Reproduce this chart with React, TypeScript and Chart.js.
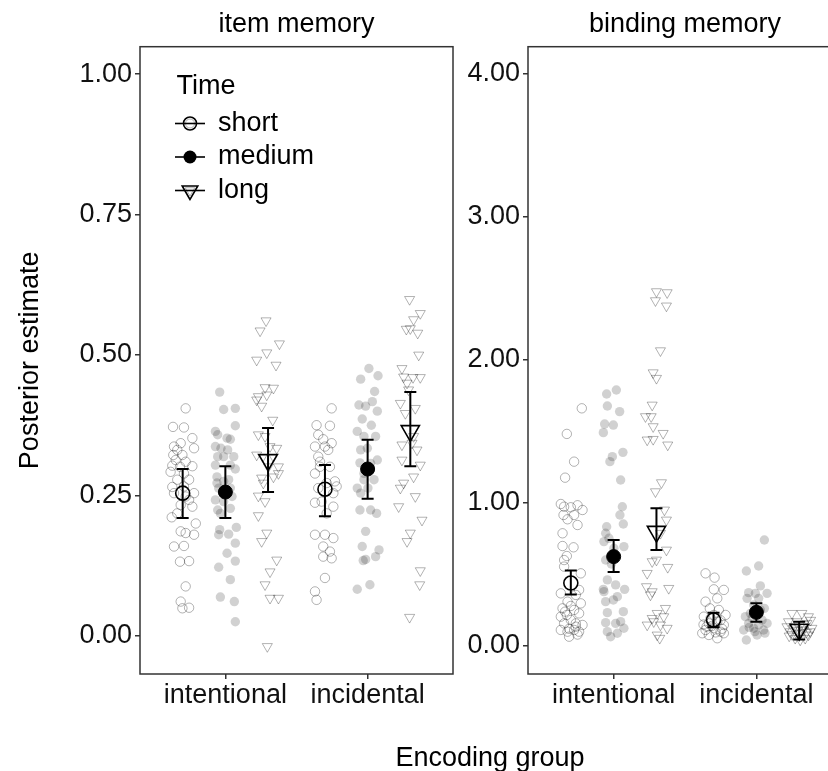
import React, { useEffect, useRef } from "react";
import { Chart, registerables } from "chart.js";
Chart.register(...registerables);

const FONT = "'Liberation Sans', Arial, Helvetica, sans-serif";
const FS = 27;

const encodingGroups = ["intentional", "incidental"];
const timeLevels = ["short", "medium", "long"];
const dodge = [-0.3, 0, 0.3];

const itemTickValues = [0, 0.25, 0.5, 0.75, 1];
const itemTickLabels = ["0.00", "0.25", "0.50", "0.75", "1.00"];
const bindingTickValues = [0, 1, 2, 3, 4];
const bindingTickLabels = ["0.00", "1.00", "2.00", "3.00", "4.00"];

// summary (mean, lower, upper) per time level: short, medium, long
const itemMeanIntentional = [0.254, 0.256, 0.313];
const itemLowIntentional = [0.21, 0.21, 0.256];
const itemHighIntentional = [0.297, 0.302, 0.37];
const itemMeanIncidental = [0.261, 0.297, 0.365];
const itemLowIncidental = [0.213, 0.244, 0.302];
const itemHighIncidental = [0.304, 0.349, 0.434];

const bindingMeanIntentional = [0.44, 0.625, 0.8];
const bindingLowIntentional = [0.36, 0.517, 0.671];
const bindingHighIntentional = [0.527, 0.741, 0.963];
const bindingMeanIncidental = [0.182, 0.235, 0.115];
const bindingLowIncidental = [0.131, 0.17, 0.045];
const bindingHighIncidental = [0.233, 0.298, 0.17];

// individual estimates: [jitter (category units), value]
type Pair = [number, number];
const itemIntentionalShort: Pair[] = [[0.021,0.405],[-0.068,0.372],[0.009,0.371],[-0.014,0.343],[0.068,0.352],[0.08,0.334],[-0.061,0.337],[-0.038,0.331],[-0.066,0.322],[-0.002,0.322],[-0.049,0.313],[0.021,0.31],[-0.073,0.303],[0.068,0.302],[-0.019,0.301],[0.009,0.289],[-0.073,0.265],[0.009,0.266],[-0.061,0.254],[0.08,0.254],[0.021,0.248],[0.045,0.242],[-0.014,0.233],[0.068,0.23],[-0.077,0.211],[-0.038,0.218],[-0.014,0.186],[0.021,0.183],[0.08,0.18],[-0.061,0.159],[0.009,0.16],[-0.019,0.132],[0.045,0.133],[0.021,0.088],[-0.014,0.061],[-0.002,0.049],[0.045,0.05],[-0.038,0.278],[0.045,0.278],[0.092,0.2],[-0.085,0.292]];
const itemIntentionalMedium: Pair[] = [[-0.04,0.434],[-0.012,0.403],[0.07,0.405],[-0.07,0.364],[0.07,0.374],[-0.054,0.358],[0.012,0.352],[0.035,0.35],[-0.07,0.337],[-0.031,0.334],[0.016,0.331],[0.059,0.319],[-0.054,0.319],[-0.012,0.319],[-0.07,0.304],[0.035,0.304],[0.07,0.297],[-0.059,0.283],[0.023,0.278],[-0.012,0.275],[-0.047,0.263],[0.035,0.263],[-0.07,0.242],[-0.012,0.239],[0.035,0.227],[-0.054,0.224],[-0.035,0.218],[0.077,0.193],[-0.04,0.189],[0.023,0.181],[-0.047,0.18],[0.07,0.165],[0.012,0.147],[-0.047,0.122],[0.07,0.133],[0.035,0.1],[-0.035,0.069],[0.063,0.061],[0.07,0.025],[0.012,0.254],[-0.059,0.272],[0.047,0.248]];
const itemIntentionalLong: Pair[] = [[-0.014,0.561],[-0.056,0.543],[0.08,0.52],[-0.009,0.504],[-0.08,0.491],[0.056,0.482],[-0.021,0.442],[0.038,0.441],[-0.009,0.429],[-0.068,0.426],[-0.08,0.42],[-0.045,0.409],[0.033,0.384],[-0.068,0.358],[-0.021,0.355],[0.061,0.334],[-0.08,0.322],[0.038,0.319],[0.002,0.301],[0.073,0.301],[-0.045,0.281],[0.038,0.283],[0.073,0.289],[-0.068,0.249],[-0.021,0.239],[-0.068,0.214],[-0.009,0.183],[-0.045,0.168],[0.061,0.135],[0.014,0.114],[-0.021,0.091],[0.014,0.067],[0.073,0.067],[-0.005,-0.019],[-0.033,0.272],[0.014,0.337],[-0.038,0.319]];
const itemIncidentalShort: Pair[] = [[0.047,0.405],[-0.059,0.375],[0.035,0.374],[-0.047,0.358],[-0.012,0.35],[0.047,0.343],[-0.07,0.337],[0,0.337],[0.023,0.331],[-0.047,0.319],[-0.035,0.301],[0.035,0.301],[-0.07,0.289],[0.07,0.275],[0.012,0.272],[-0.047,0.263],[0.059,0.254],[-0.07,0.237],[-0.023,0.239],[0.059,0.23],[0.012,0.218],[-0.07,0.18],[0,0.18],[0.059,0.174],[-0.012,0.159],[0.035,0.15],[-0.012,0.141],[0.047,0.138],[0,0.103],[-0.07,0.079],[-0.059,0.064],[0.082,0.266],[-0.035,0.31]];
const itemIncidentalMedium: Pair[] = [[0.009,0.476],[-0.049,0.457],[0.073,0.463],[0.049,0.435],[-0.061,0.411],[-0.014,0.409],[0.033,0.417],[-0.038,0.386],[0.068,0.4],[0.026,0.375],[-0.073,0.364],[-0.026,0.355],[0.056,0.355],[-0.049,0.331],[-0.002,0.334],[0.068,0.313],[-0.054,0.308],[0.021,0.307],[-0.026,0.278],[0.045,0.278],[-0.073,0.263],[0.002,0.263],[-0.049,0.254],[-0.054,0.224],[0.021,0.224],[0.063,0.218],[-0.014,0.186],[-0.038,0.159],[0.08,0.153],[0.056,0.141],[-0.014,0.136],[-0.031,0.134],[-0.073,0.083],[0.016,0.091],[-0.026,0.289]];
const itemIncidentalLong: Pair[] = [[-0.005,0.599],[0.07,0.574],[0.023,0.563],[0,0.547],[-0.028,0.546],[0.052,0.539],[0.059,0.5],[-0.059,0.476],[-0.047,0.461],[0.019,0.46],[0.07,0.46],[-0.023,0.45],[-0.07,0.414],[0.035,0.405],[-0.035,0.396],[-0.059,0.34],[0.012,0.343],[0.047,0.331],[-0.059,0.313],[0.07,0.304],[0.023,0.283],[-0.047,0.272],[-0.07,0.263],[0.035,0.248],[-0.082,0.23],[0.082,0.206],[0,0.183],[-0.023,0.168],[0.07,0.116],[0.066,0.091],[-0.005,0.033],[0.023,0.355],[-0.012,0.438]];

const bindingIntentionalShort: Pair[] = [[0.077,1.662],[-0.028,1.483],[0.023,1.289],[-0.04,1.177],[-0.07,0.993],[-0.047,0.974],[0,0.97],[0.047,0.984],[0.082,0.951],[-0.051,0.916],[0.023,0.916],[-0.023,0.886],[0.047,0.846],[-0.058,0.788],[-0.058,0.699],[0.019,0.69],[-0.028,0.629],[-0.047,0.601],[-0.047,0.555],[0.07,0.508],[0.058,0.392],[-0.07,0.368],[0.035,0.357],[-0.023,0.31],[0.07,0.298],[-0.058,0.263],[0.023,0.252],[0.058,0.228],[-0.028,0.217],[-0.07,0.205],[0,0.182],[-0.047,0.158],[0.035,0.158],[0.082,0.147],[-0.07,0.112],[-0.023,0.1],[0.023,0.112],[0.058,0.1],[-0.012,0.065],[0.035,0.135],[-0.04,0.24],[0,0.28],[-0.012,0.12],[0.047,0.08]];
const bindingIntentionalMedium: Pair[] = [[0.019,1.79],[-0.049,1.762],[-0.044,1.678],[0.042,1.639],[-0.063,1.552],[-0.002,1.545],[-0.072,1.492],[0.065,1.354],[-0.009,1.324],[-0.026,1.289],[0.049,1.161],[0.061,0.974],[0.044,0.916],[-0.049,0.834],[-0.056,0.788],[-0.033,0.753],[0.068,0.853],[0.072,0.695],[-0.068,0.73],[-0.056,0.601],[-0.016,0.573],[-0.044,0.462],[0.014,0.427],[-0.072,0.396],[0.077,0.396],[0.026,0.345],[-0.002,0.322],[-0.056,0.31],[0.068,0.24],[-0.044,0.233],[0.014,0.158],[-0.056,0.163],[0.049,0.17],[-0.044,0.1],[0.026,0.089],[-0.021,0.065],[0.072,0.124],[-0.068,0.38],[0.002,0.683]];
const bindingIntentionalLong: Pair[] = [[0,2.478],[0.075,2.471],[-0.007,2.415],[0.07,2.378],[0.028,2.065],[-0.023,1.911],[0,1.872],[-0.03,1.685],[-0.037,1.604],[-0.077,1.604],[-0.023,1.534],[0.047,1.487],[-0.065,1.441],[-0.023,1.445],[0.079,1.406],[0.035,1.142],[-0.007,1.079],[0.056,0.951],[0.07,0.881],[0.028,0.788],[0.07,0.671],[0,0.601],[-0.03,0.59],[0.079,0.55],[-0.065,0.508],[-0.07,0.415],[-0.03,0.38],[0.086,0.403],[-0.042,0.357],[0.063,0.263],[0.005,0.228],[-0.065,0.147],[-0.019,0.17],[0.028,0.147],[0.075,0.124],[0.005,0.077],[-0.03,0.193],[0.051,0.205],[0.023,0.054]];
const bindingIncidentalShort: Pair[] = [[-0.056,0.508],[0.007,0.478],[0.072,0.392],[0.002,0.396],[-0.056,0.31],[0.026,0.333],[-0.026,0.263],[0.037,0.252],[0.084,0.217],[0.002,0.217],[-0.068,0.205],[-0.033,0.158],[0.026,0.17],[0.072,0.147],[-0.056,0.112],[0.002,0.124],[0.049,0.1],[-0.033,0.077],[0.026,0.054],[-0.079,0.089],[0.072,0.089],[-0.021,0.193],[-0.049,0.135],[0.049,0.18],[-0.012,0.14],[0.06,0.12],[-0.07,0.15],[0.015,0.095]];
const bindingIncidentalMedium: Pair[] = [[0.056,0.741],[0.016,0.559],[-0.07,0.524],[0.028,0.42],[-0.054,0.373],[-0.007,0.368],[0.075,0.368],[-0.065,0.333],[0.016,0.333],[-0.019,0.287],[0.056,0.263],[-0.077,0.205],[-0.03,0.193],[0.04,0.182],[-0.054,0.158],[0.016,0.147],[0.075,0.158],[-0.089,0.112],[-0.019,0.124],[0.051,0.112],[-0.07,0.042],[0.005,0.077],[-0.042,0.228],[0.028,0.252],[-0.01,0.1],[0.06,0.09],[-0.05,0.13]];
const bindingIncidentalLong: Pair[] = [[-0.051,0.228],[0.019,0.228],[0.065,0.205],[-0.075,0.17],[-0.016,0.17],[0.054,0.158],[-0.04,0.124],[0.03,0.112],[0.089,0.124],[-0.063,0.1],[-0.005,0.089],[0.065,0.077],[-0.028,0.054],[0.042,0.054],[0.007,0.042],[-0.086,0.135],[0.077,0.1],[0,0.13],[-0.05,0.08],[0.03,0.15],[0.08,0.18],[-0.02,0.11],[0.05,0.095],[-0.07,0.07]];

const jitterStyles = [
  { pointStyle: "circle", pointRadius: 4.7, pointBackgroundColor: "rgba(0,0,0,0)", pointBorderColor: "rgba(0,0,0,0.3)", pointBorderWidth: 1, pointRotation: 0 },
  { pointStyle: "circle", pointRadius: 4.7, pointBackgroundColor: "rgba(0,0,0,0.18)", pointBorderColor: "rgba(0,0,0,0)", pointBorderWidth: 0, pointRotation: 0 },
  { pointStyle: "triangle", pointRadius: 5.8, pointBackgroundColor: "rgba(0,0,0,0)", pointBorderColor: "rgba(0,0,0,0.3)", pointBorderWidth: 1, pointRotation: 180 },
];
const meanStyles = [
  { pointStyle: "circle", pointRadius: 7, pointBackgroundColor: "rgba(0,0,0,0)", pointBorderColor: "#000", pointBorderWidth: 1.6, pointRotation: 0 },
  { pointStyle: "circle", pointRadius: 7, pointBackgroundColor: "#000", pointBorderColor: "#000", pointBorderWidth: 1, pointRotation: 0 },
  { pointStyle: "triangle", pointRadius: 10.5, pointBackgroundColor: "rgba(0,0,0,0)", pointBorderColor: "#000", pointBorderWidth: 1.6, pointRotation: 180 },
];

interface Panel {
  title: string;
  points: Pair[][][]; // [encoding][time]
  means: number[][];
  lows: number[][];
  highs: number[][];
  yMin: number;
  yMax: number;
  tickValues: number[];
  tickLabels: string[];
  canvasWidth: number;
  areaLeft: number;
  areaRight: number;
  yTitle?: string;
  extras?: any[];
}

const framePlugin = {
  id: "frame",
  afterDraw(chart: any) {
    const { ctx, chartArea: a } = chart;
    ctx.save();
    ctx.strokeStyle = "#333";
    ctx.lineWidth = 1.5;
    ctx.strokeRect(a.left, a.top, a.right - a.left, a.bottom - a.top);
    ctx.restore();
  },
};

function errorBarPlugin(p: Panel) {
  return {
    id: "errorBars",
    afterDatasetsDraw(chart: any) {
      const { ctx } = chart;
      const x = chart.scales.x;
      const y = chart.scales.y;
      ctx.save();
      ctx.strokeStyle = "#000";
      ctx.lineWidth = 2;
      encodingGroups.forEach((_, e) => {
        timeLevels.forEach((_, t) => {
          const px = x.getPixelForValue(e + 1 + dodge[t]);
          const lo = y.getPixelForValue(p.lows[e][t]);
          const hi = y.getPixelForValue(p.highs[e][t]);
          ctx.beginPath();
          ctx.moveTo(px, lo);
          ctx.lineTo(px, hi);
          ctx.moveTo(px - 6, lo);
          ctx.lineTo(px + 6, lo);
          ctx.moveTo(px - 6, hi);
          ctx.lineTo(px + 6, hi);
          ctx.stroke();
        });
      });
      ctx.restore();
    },
  };
}

function drawShape(ctx: CanvasRenderingContext2D, shape: number, x: number, y: number, r: number) {
  ctx.beginPath();
  if (shape === 2) {
    for (let k = 0; k < 3; k++) {
      const rad = Math.PI + (k * 2 * Math.PI) / 3;
      const px = x + Math.sin(rad) * r;
      const py = y - Math.cos(rad) * r;
      if (k === 0) ctx.moveTo(px, py);
      else ctx.lineTo(px, py);
    }
    ctx.closePath();
  } else {
    ctx.arc(x, y, r, 0, Math.PI * 2);
  }
}

const legendPlugin = {
  id: "timeLegend",
  afterDraw(chart: any) {
    const { ctx, chartArea: a } = chart;
    ctx.save();
    ctx.fillStyle = "#000";
    ctx.font = `${FS}px ${FONT}`;
    ctx.textAlign = "left";
    ctx.textBaseline = "alphabetic";
    ctx.fillText("Time", a.left + 36.5, 93.5);
    const rows = [123.5, 157, 190.5];
    const cx = a.left + 50;
    timeLevels.forEach((lab, t) => {
      const cy = rows[t];
      // jitter layer key
      ctx.lineWidth = 1;
      if (t === 1) {
        ctx.fillStyle = "rgba(0,0,0,0.18)";
        drawShape(ctx, 0, cx, cy, 4.7);
        ctx.fill();
      } else {
        ctx.strokeStyle = "rgba(0,0,0,0.3)";
        drawShape(ctx, t, cx, cy, t === 2 ? 5.5 : 4.5);
        ctx.stroke();
      }
      // error bar key line
      ctx.strokeStyle = "#000";
      ctx.lineWidth = 1.6;
      ctx.beginPath();
      ctx.moveTo(cx - 15, cy);
      ctx.lineTo(cx + 15, cy);
      ctx.stroke();
      // mean key
      if (t === 1) {
        ctx.fillStyle = "#000";
        drawShape(ctx, 0, cx, cy, 6.5);
        ctx.fill();
      } else {
        drawShape(ctx, t, cx, cy, t === 2 ? 9 : 6.5);
        ctx.stroke();
      }
      ctx.fillStyle = "#000";
      ctx.textBaseline = "middle";
      ctx.fillText(lab, a.left + 78, cy);
    });
    ctx.restore();
  },
};

const xTitlePlugin = {
  id: "encodingTitle",
  afterDraw(chart: any) {
    const { ctx } = chart;
    ctx.save();
    ctx.fillStyle = "#000";
    ctx.font = `${FS}px ${FONT}`;
    ctx.textAlign = "center";
    ctx.textBaseline = "alphabetic";
    ctx.fillText("Encoding group", 490, 766);
    ctx.restore();
  },
};

function makeConfig(p: Panel): any {
  const datasets: any[] = [];
  timeLevels.forEach((lab, t) => {
    const data: { x: number; y: number }[] = [];
    encodingGroups.forEach((_, e) => {
      p.points[e][t].forEach(([j, v]) => data.push({ x: e + 1 + dodge[t] + j, y: v }));
    });
    datasets.push({ label: lab + " (individual)", data, order: 1, ...jitterStyles[t] });
  });
  timeLevels.forEach((lab, t) => {
    const data = encodingGroups.map((_, e) => ({ x: e + 1 + dodge[t], y: p.means[e][t] }));
    datasets.push({ label: lab, data, order: 0, ...meanStyles[t] });
  });
  const font = { family: FONT, size: FS, weight: "normal" as const };
  return {
    type: "scatter",
    data: { datasets },
    options: {
      responsive: false,
      animation: false,
      events: [],
      layout: { padding: { left: 0, right: p.canvasWidth - p.areaRight, top: 0, bottom: 0 } },
      plugins: {
        legend: { display: false },
        tooltip: { enabled: false },
        title: {
          display: true,
          text: p.title,
          fullSize: false,
          color: "#000",
          font,
          padding: { top: 8, bottom: 6.3 },
        },
      },
      scales: {
        x: {
          type: "linear",
          min: 0.4,
          max: 2.6,
          afterBuildTicks: (s: any) => {
            s.ticks = encodingGroups.map((_, i) => ({ value: i + 1 }));
          },
          afterFit: (s: any) => {
            s.height = 97;
          },
          ticks: {
            callback: (_v: any, i: number) => encodingGroups[i],
            color: "#111",
            font,
            padding: 0,
            maxRotation: 0,
            autoSkip: false,
          },
          grid: { drawOnChartArea: false, drawTicks: true, tickLength: 5, color: "#333", lineWidth: 1.5 },
          border: { display: false },
        },
        y: {
          type: "linear",
          min: p.yMin,
          max: p.yMax,
          afterBuildTicks: (s: any) => {
            s.ticks = p.tickValues.map((v) => ({ value: v }));
          },
          afterFit: (s: any) => {
            s.width = p.areaLeft;
          },
          ticks: {
            callback: (_v: any, i: number) => p.tickLabels[i],
            color: "#111",
            font,
            padding: 3,
          },
          title: p.yTitle
            ? { display: true, text: p.yTitle, color: "#000", font, padding: { top: 14, bottom: 0 } }
            : { display: false },
          grid: { drawOnChartArea: false, drawTicks: true, tickLength: 5, color: "#333", lineWidth: 1.5 },
          border: { display: false },
        },
      },
    },
    plugins: [framePlugin, errorBarPlugin(p), ...(p.extras || [])],
  };
}

const itemPanel: Panel = {
  title: "item memory",
  points: [
    [itemIntentionalShort, itemIntentionalMedium, itemIntentionalLong],
    [itemIncidentalShort, itemIncidentalMedium, itemIncidentalLong],
  ],
  means: [itemMeanIntentional, itemMeanIncidental],
  lows: [itemLowIntentional, itemLowIncidental],
  highs: [itemHighIntentional, itemHighIncidental],
  yMin: -0.068,
  yMax: 1.049,
  tickValues: itemTickValues,
  tickLabels: itemTickLabels,
  canvasWidth: 828,
  areaLeft: 140,
  areaRight: 453,
  yTitle: "Posterior estimate",
  extras: [legendPlugin, xTitlePlugin],
};

const bindingPanel: Panel = {
  title: "binding memory",
  points: [
    [bindingIntentionalShort, bindingIntentionalMedium, bindingIntentionalLong],
    [bindingIncidentalShort, bindingIncidentalMedium, bindingIncidentalLong],
  ],
  means: [bindingMeanIntentional, bindingMeanIncidental],
  lows: [bindingLowIntentional, bindingLowIncidental],
  highs: [bindingHighIntentional, bindingHighIncidental],
  yMin: -0.196,
  yMax: 4.191,
  tickValues: bindingTickValues,
  tickLabels: bindingTickLabels,
  canvasWidth: 860,
  areaLeft: 528,
  areaRight: 842,
};

export default function App() {
  const leftRef = useRef<HTMLCanvasElement>(null);
  const rightRef = useRef<HTMLCanvasElement>(null);

  useEffect(() => {
    const charts: Chart[] = [];
    if (rightRef.current) charts.push(new Chart(rightRef.current, makeConfig(bindingPanel)));
    if (leftRef.current) charts.push(new Chart(leftRef.current, makeConfig(itemPanel)));
    return () => charts.forEach((c) => c.destroy());
  }, []);

  return (
    <div
      style={{
        position: "absolute",
        left: 0,
        top: 0,
        width: 828,
        height: 771,
        overflow: "hidden",
        background: "#fff",
      }}
    >
      <canvas
        ref={rightRef}
        width={860}
        height={771}
        style={{ position: "absolute", left: 0, top: 0, width: 860, height: 771 }}
      />
      <canvas
        ref={leftRef}
        width={828}
        height={771}
        style={{ position: "absolute", left: 0, top: 0, width: 828, height: 771 }}
      />
    </div>
  );
}
